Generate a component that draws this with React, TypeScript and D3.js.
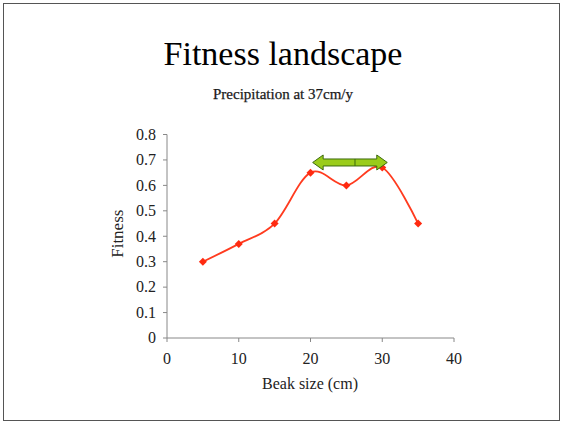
import React from "react";
import * as d3 from "d3";

const beakSize = [5, 10, 15, 20, 25, 30, 35];
const fitness = [0.3, 0.37, 0.45, 0.65, 0.6, 0.67, 0.45];
const xTicks = [0, 10, 20, 30, 40];
const yTicks = [0, 0.1, 0.2, 0.3, 0.4, 0.5, 0.6, 0.7, 0.8];
const arrowRange = [20.3, 30.7];
const arrowMid = 26.2;
const arrowLevel = 0.69;

const W = 563;
const H = 424;
const FONT = "'Liberation Serif', 'Times New Roman', serif";

export default function App() {
  const x = d3.scaleLinear().domain([0, 40]).range([167, 454]);
  const y = d3.scaleLinear().domain([0, 0.8]).range([338, 134.5]);
  const pts = beakSize.map((b, i) => [x(b), y(fitness[i])] as [number, number]);
  const line = d3.line().curve(d3.curveCardinal.tension(0))(pts) || "";

  const ax0 = x(arrowRange[0]);
  const ax1 = x(arrowRange[1]);
  const ay = y(arrowLevel);
  const hw = 10.5;
  const bh = 3.5;
  const hh = 7.5;
  const arrowPath = [
    `M${ax0},${ay}`,
    `L${ax0 + hw},${ay - hh}`,
    `L${ax0 + hw},${ay - bh}`,
    `L${ax1 - hw},${ay - bh}`,
    `L${ax1 - hw},${ay - hh}`,
    `L${ax1},${ay}`,
    `L${ax1 - hw},${ay + hh}`,
    `L${ax1 - hw},${ay + bh}`,
    `L${ax0 + hw},${ay + bh}`,
    `L${ax0 + hw},${ay + hh}`,
    "Z",
  ].join("");

  return (
    <svg width={W} height={H} style={{ position: "absolute", left: 0, top: 0 }}>
      <rect x={0} y={0} width={W} height={H} fill="#fff" />
      <rect x={3.5} y={3.5} width={556} height={417} fill="none" stroke="#555" strokeWidth={1} />
      <text x={283} y={65} textAnchor="middle" fontFamily={FONT} fontSize={34} fill="#000">
        Fitness landscape
      </text>
      <text
        x={283}
        y={99}
        textAnchor="middle"
        fontFamily={FONT}
        fontSize={15}
        fill="#1a1a1a"
        stroke="#1a1a1a"
        strokeWidth={0.25}
      >
        Precipitation at 37cm/y
      </text>
      {/* axes */}
      <line x1={x(0)} x2={x(0)} y1={y(0.8)} y2={y(0)} stroke="#888" strokeWidth={1} />
      <line x1={x(0)} x2={x(40)} y1={y(0)} y2={y(0)} stroke="#888" strokeWidth={1} />
      {yTicks.map((t) => (
        <g key={"y" + t}>
          <line x1={x(0) - 4} x2={x(0)} y1={y(t)} y2={y(t)} stroke="#888" />
          <text x={x(0) - 11} y={y(t) + 5.3} textAnchor="end" fontFamily={FONT} fontSize={16} fill="#222">
            {t === 0 ? "0" : t.toFixed(1)}
          </text>
        </g>
      ))}
      {xTicks.map((t) => (
        <g key={"x" + t}>
          <line x1={x(t)} x2={x(t)} y1={y(0)} y2={y(0) + 4} stroke="#888" />
          <text x={x(t)} y={y(0) + 26} textAnchor="middle" fontFamily={FONT} fontSize={16} fill="#222">
            {t}
          </text>
        </g>
      ))}
      <text
        transform={`translate(${123},${y(0.41)}) rotate(-90)`}
        textAnchor="middle"
        fontFamily={FONT}
        fontSize={17}
        fill="#222"
      >
        Fitness
      </text>
      <text x={310} y={389} textAnchor="middle" fontFamily={FONT} fontSize={16} fill="#222">
        Beak size (cm)
      </text>
      {/* series */}
      <path d={line} fill="none" stroke="#ff3b1f" strokeWidth={1.8} />
      {pts.map(([px, py], i) => (
        <path
          key={i}
          d={`M${px},${py - 4}L${px + 4},${py}L${px},${py + 4}L${px - 4},${py}Z`}
          fill="#ff2a10"
        />
      ))}
      {/* arrow */}
      <path d={arrowPath} fill="#9acc1a" stroke="#3d6b0f" strokeWidth={1} />
      <line x1={x(arrowMid)} x2={x(arrowMid)} y1={ay - bh} y2={ay + bh} stroke="#3d6b0f" strokeWidth={1} />
    </svg>
  );
}
